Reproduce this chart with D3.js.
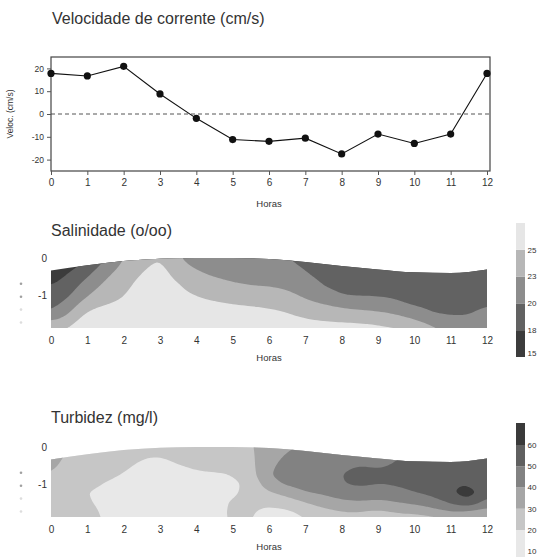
<!DOCTYPE html>
<html>
<head>
<meta charset="utf-8">
<script src="https://cdn.jsdelivr.net/npm/d3@7"></script>
<style>
    body { margin: 0; background: #fff; }
    svg { display: block; font-family: "Liberation Sans", Arial, Helvetica, sans-serif; }
</style>
</head>
<body>
<svg id="chart" width="538" height="558"></svg>
<script>
// horas de amostragem (0 a 12)
var horas = d3.range(0, 13);

// velocidade de corrente (cm/s) a cada hora
var velocidade = [17.8, 16.7, 20.9, 8.8, -1.9, -11.2, -12.0, -10.6, -17.5, -8.8, -12.9, -8.8, 17.8];
var velTicks = [-20, -10, 0, 10, 20];

// nivel da superficie (m) a cada hora
var superficie = [-0.34, -0.2, -0.08, -0.02, 0, 0, -0.03, -0.11, -0.22, -0.31, -0.39, -0.41, -0.31];
var profTicks = [0, -1];
var sensores = [-0.7, -1.05, -1.4, -1.75];

// grade: uma coluna a cada meia hora, linhas de 0 a -2 m a cada 0.25 m
var gradeHoras = d3.range(0, 12.01, 0.5);
var gradeProf = [0, -0.25, -0.5, -0.75, -1.0, -1.25, -1.5, -1.75, -2.0];

// salinidade (o/oo), uma lista por coluna da grade
var salinidade = [
    [14.6, 15.5, 16.4, 17.3, 18.3, 19.1, 20.0, 22.9, 24.4],
    [15.6, 16.8, 17.9, 18.8, 19.6, 20.9, 22.5, 24.1, 25.6],
    [17.2, 18.5, 19.8, 21.1, 22.4, 24.1, 25.6, 26.8, 27.5],
    [20.0, 21.1, 22.3, 23.2, 24.1, 25.0, 25.8, 26.5, 27.2],
    [22.7, 23.2, 23.8, 24.3, 24.8, 25.4, 26.0, 26.6, 27.2],
    [23.8, 24.6, 25.3, 25.9, 26.4, 26.8, 27.2, 27.5, 27.8],
    [25.4, 25.8, 26.2, 26.5, 26.9, 27.2, 27.5, 27.7, 27.9],
    [22.7, 23.5, 24.3, 25.2, 25.6, 26.1, 26.5, 26.9, 27.3],
    [21.2, 22.2, 23.1, 24.0, 24.9, 25.7, 26.5, 27.3, 27.8],
    [20.8, 21.6, 22.4, 23.4, 24.3, 25.3, 26.0, 26.7, 27.3],
    [20.6, 21.3, 22.0, 22.8, 23.9, 25.0, 25.8, 26.5, 27.2],
    [20.4, 21.1, 21.8, 22.5, 23.6, 24.8, 25.7, 26.4, 27.0],
    [20.2, 20.9, 21.7, 22.4, 23.5, 24.5, 25.6, 26.3, 27.0],
    [20.3, 20.9, 21.4, 22.1, 23.0, 24.0, 25.1, 26.0, 26.7],
    [18.8, 19.7, 20.4, 21.3, 22.1, 23.1, 24.3, 25.5, 26.3],
    [18.3, 18.9, 19.4, 19.9, 21.1, 22.5, 23.9, 25.2, 26.0],
    [18.0, 18.5, 18.9, 19.3, 19.9, 21.8, 23.5, 25.1, 25.8],
    [18.0, 18.4, 18.8, 19.3, 19.8, 21.3, 23.2, 25.0, 25.7],
    [18.0, 18.4, 18.8, 19.3, 19.8, 21.1, 22.9, 24.8, 25.6],
    [17.9, 18.3, 18.7, 19.1, 19.6, 20.4, 22.3, 24.2, 25.5],
    [17.9, 18.2, 18.5, 18.9, 19.3, 19.7, 21.1, 23.3, 25.3],
    [17.9, 18.1, 18.4, 18.7, 19.1, 19.5, 19.9, 21.7, 23.3],
    [17.9, 18.1, 18.4, 18.7, 19.0, 19.4, 19.8, 20.7, 22.0],
    [17.9, 18.1, 18.4, 18.7, 19.0, 19.4, 19.8, 20.6, 21.7],
    [18.0, 18.4, 18.8, 19.2, 19.6, 19.9, 20.6, 21.4, 22.2]
];
var salLimites = [17.5, 20, 22.5, 25];
var salCores = ["#3c3c3c", "#626262", "#8d8d8d", "#b7b7b7", "#e6e6e6"];
var salLegenda = [15, 17.5, 20, 22.5, 25];

// turbidez (mg/l), uma lista por coluna da grade
var turbidez = [
    [36, 34, 32, 30.3, 28, 26, 25, 24, 24],
    [29, 28, 27, 26, 25, 24, 24, 24, 24],
    [27, 26, 25, 24, 22, 19.8, 21, 23, 24],
    [26, 25, 23.5, 21.5, 19.5, 18, 17.5, 18, 18.5],
    [25, 23.5, 21.5, 19.7, 18, 17, 16.5, 17, 17.5],
    [23, 20.6, 18.5, 17, 16, 15.5, 15.5, 16, 16.5],
    [22.5, 19.8, 18, 16.5, 15.5, 15, 15, 15.5, 16],
    [24, 22, 19.8, 18, 16.5, 15.5, 15.5, 16, 16.5],
    [25, 23, 21, 19.2, 17.5, 16.5, 16, 16.5, 17],
    [25.5, 23.5, 21.5, 19.5, 18, 17.5, 17.5, 17.5, 18],
    [26, 24, 22, 19.8, 17.5, 19, 21, 21.5, 21],
    [29.5, 28.5, 27, 25, 23, 22, 21.5, 21, 20.5],
    [33, 35, 38, 40.5, 36, 29, 21.5, 18, 17],
    [39, 42, 44, 44, 42, 33, 25, 18, 16],
    [41, 43, 45, 46, 44, 39.8, 30, 23, 19],
    [42, 44, 46, 47, 46, 41, 35, 27, 24],
    [43, 45, 48, 49.8, 49.5, 45, 38, 30, 27],
    [45, 47, 50.3, 53, 52, 46, 39.5, 30, 27],
    [46, 47, 48.5, 52, 49.8, 45, 37.5, 28, 26],
    [47, 48.5, 51, 53, 51, 46, 40, 30.5, 27],
    [52, 53, 54, 55, 54, 49.5, 42.5, 32, 24],
    [53, 54, 55, 56, 56, 52, 46, 36, 24],
    [54, 55, 56, 57, 58.5, 58.5, 51, 40.3, 33],
    [54, 55, 56, 57.5, 60.5, 65, 61, 38, 34],
    [52, 52, 53, 53, 52.5, 54, 43, 36, 32]
];
var turbLimites = [20, 30, 40, 50, 60];
var turbCores = ["#e8e8e8", "#c6c6c6", "#a6a6a6", "#828282", "#606060", "#3a3a3a"];
var turbLegenda = [10, 20, 30, 40, 50, 60];

var svg = d3.select("#chart");
var corTexto = "#333";
var x = d3.scaleLinear().domain([0, 12]).range([51, 487]);

/**
 * Applies the common text style to an axis group
 */
function estiloEixo(g, tamanho) {
    g.attr("font-family", null).attr("font-size", tamanho);
    g.select(".domain").remove();
    g.selectAll("text").attr("fill", corTexto);
    g.selectAll("line").attr("stroke", "#555");
}

// ---------- velocidade ----------
var yVel = d3.scaleLinear().domain([-25, 25]).range([171, 57]);

svg.append("text")
    .attr("x", 52).attr("y", 24)
    .attr("font-size", 16).attr("fill", corTexto)
    .text("Velocidade de corrente (cm/s)");

svg.append("line")
    .attr("x1", x(0)).attr("x2", x(12) + 3)
    .attr("y1", yVel(0)).attr("y2", yVel(0))
    .attr("stroke", "#555").attr("stroke-dasharray", "4,3");

svg.append("rect")
    .attr("x", x(0)).attr("y", yVel(25))
    .attr("width", x(12) + 3 - x(0)).attr("height", yVel(-25) - yVel(25))
    .attr("fill", "none").attr("stroke", "#444").attr("stroke-width", 1.2);

svg.append("g")
    .attr("transform", "translate(" + x(0) + ",0)")
    .call(d3.axisLeft(yVel).tickValues(velTicks).tickSize(4).tickPadding(3)
        .tickFormat(function(d) { return String(d); }))
    .call(estiloEixo, 8.5);

svg.append("g")
    .attr("transform", "translate(0," + yVel(-25) + ")")
    .call(d3.axisBottom(x).tickValues(horas).tickSize(4).tickPadding(4))
    .call(estiloEixo, 10);

svg.append("path")
    .datum(velocidade)
    .attr("fill", "none").attr("stroke", "#111").attr("stroke-width", 1.1)
    .attr("d", d3.line()
        .x(function(d, i) { return x(horas[i]); })
        .y(function(d) { return yVel(d); }));

svg.selectAll("circle.vel")
    .data(velocidade)
    .enter().append("circle")
    .attr("class", "vel")
    .attr("cx", function(d, i) { return x(horas[i]); })
    .attr("cy", function(d) { return yVel(d); })
    .attr("r", 3.6)
    .attr("fill", "#111");

svg.append("text")
    .attr("transform", "translate(13," + yVel(0) + ") rotate(-90)")
    .attr("text-anchor", "middle")
    .attr("font-size", 8.5).attr("fill", corTexto)
    .text("Veloc. (cm/s)");

svg.append("text")
    .attr("x", (x(0) + x(12)) / 2).attr("y", 207)
    .attr("text-anchor", "middle")
    .attr("font-size", 9.5).attr("fill", corTexto)
    .text("Horas");

/**
 * Draws one filled contour panel (depth x hours)
 */
function painelContorno(id, topo, titulo, tituloY, grade, limites, cores) {
    var y = d3.scaleLinear().domain([0, -1.9]).range([topo, topo + 70]);
    var g = svg.append("g");

    g.append("text")
        .attr("x", 51).attr("y", tituloY)
        .attr("font-size", 16).attr("fill", corTexto)
        .text(titulo);

    // water column below the surface
    var area = d3.area()
        .x(function(d, i) { return x(horas[i]); })
        .y0(y(-1.9))
        .y1(function(d) { return y(d); })
        .curve(d3.curveMonotoneX);

    g.append("clipPath").attr("id", id)
        .append("path").datum(superficie).attr("d", area);

    g.append("path").datum(superficie)
        .attr("d", area)
        .attr("fill", cores[0]);

    // resample the grid (bilinear + light blur) so the bands come out smooth
    var f = 6;
    var nx = grade.length, ny = grade[0].length;
    var fx = (nx - 1) * f + 1, fy = (ny - 1) * f + 1;
    var valores = new Float64Array(fx * fy);
    for (var j = 0; j < fy; j++) {
        for (var i = 0; i < fx; i++) {
            var i0 = Math.min(Math.floor(i / f), nx - 2), j0 = Math.min(Math.floor(j / f), ny - 2);
            var tx = i / f - i0, ty = j / f - j0;
            valores[j * fx + i] = grade[i0][j0] * (1 - tx) * (1 - ty) + grade[i0 + 1][j0] * tx * (1 - ty) +
                grade[i0][j0 + 1] * (1 - tx) * ty + grade[i0 + 1][j0 + 1] * tx * ty;
        }
    }
    d3.blur2({data: valores, width: fx, height: fy}, 2, 1);

    var hIdx = d3.scaleLinear().domain([0, fx - 1]).range([gradeHoras[0], gradeHoras[nx - 1]]);
    var pIdx = d3.scaleLinear().domain([0, fy - 1]).range([gradeProf[0], gradeProf[ny - 1]]);
    var caminho = d3.geoPath(d3.geoTransform({
        point: function(px, py) { this.stream.point(x(hIdx(px - 0.5)), y(pIdx(py - 0.5))); }
    }));

    var contornos = d3.contours().size([fx, fy]).thresholds(limites)(Array.from(valores));

    g.append("g")
        .attr("clip-path", "url(#" + id + ")")
        .selectAll("path")
        .data(contornos)
        .enter().append("path")
        .attr("d", caminho)
        .attr("fill", function(d, k) { return cores[k + 1]; });

    // depth labels
    g.append("g")
        .attr("transform", "translate(" + x(0) + ",0)")
        .call(d3.axisLeft(y).tickValues(profTicks).tickSize(0).tickPadding(4)
            .tickFormat(function(d) { return String(d); }))
        .call(estiloEixo, 10);

    g.selectAll("circle.sensor")
        .data(sensores)
        .enter().append("circle")
        .attr("class", "sensor")
        .attr("cx", 21).attr("cy", function(d) { return y(d); })
        .attr("r", 1.3)
        .attr("fill", "#777")
        .attr("opacity", function(d, k) { return k < 2 ? 0.7 : 0.25; });

    g.append("g")
        .attr("transform", "translate(0," + y(-1.9) + ")")
        .call(d3.axisBottom(x).tickValues(horas).tickSize(0).tickPadding(9))
        .call(estiloEixo, 10);

    g.append("text")
        .attr("x", (x(0) + x(12)) / 2).attr("y", y(-1.9) + 33)
        .attr("text-anchor", "middle")
        .attr("font-size", 9.5).attr("fill", corTexto)
        .text("Horas");
}

/**
 * Draws the grey scale bar on the right
 */
function barraCores(escala, topo, base, limites, cores, legenda) {
    var g = svg.append("g");
    var bordas = [base].concat(limites.map(escala)).concat([topo]);
    g.selectAll("rect")
        .data(cores)
        .enter().append("rect")
        .attr("x", 516).attr("width", 9)
        .attr("y", function(d, k) { return bordas[k + 1]; })
        .attr("height", function(d, k) { return bordas[k] - bordas[k + 1]; })
        .attr("fill", function(d) { return d; });

    g.selectAll("text")
        .data(legenda)
        .enter().append("text")
        .attr("x", 527.5).attr("y", function(d) { return Math.min(escala(d), base - 4); })
        .attr("dy", "0.35em")
        .attr("font-size", 8).attr("fill", corTexto)
        .text(function(d) { return d.toFixed(0); });
}

painelContorno("clip-sal", 258, "Salinidade (o/oo)", 236, salinidade, salLimites, salCores);
painelContorno("clip-turb", 447, "Turbidez (mg/l)", 423, turbidez, turbLimites, turbCores);

barraCores(d3.scaleLinear().domain([15, 27.5]).range([357, 223]), 223, 357, salLimites, salCores, salLegenda);
barraCores(d3.scaleLinear().domain([20, 60]).range([530, 445]), 423, 557, turbLimites, turbCores, turbLegenda);
</script>
</body>
</html>
